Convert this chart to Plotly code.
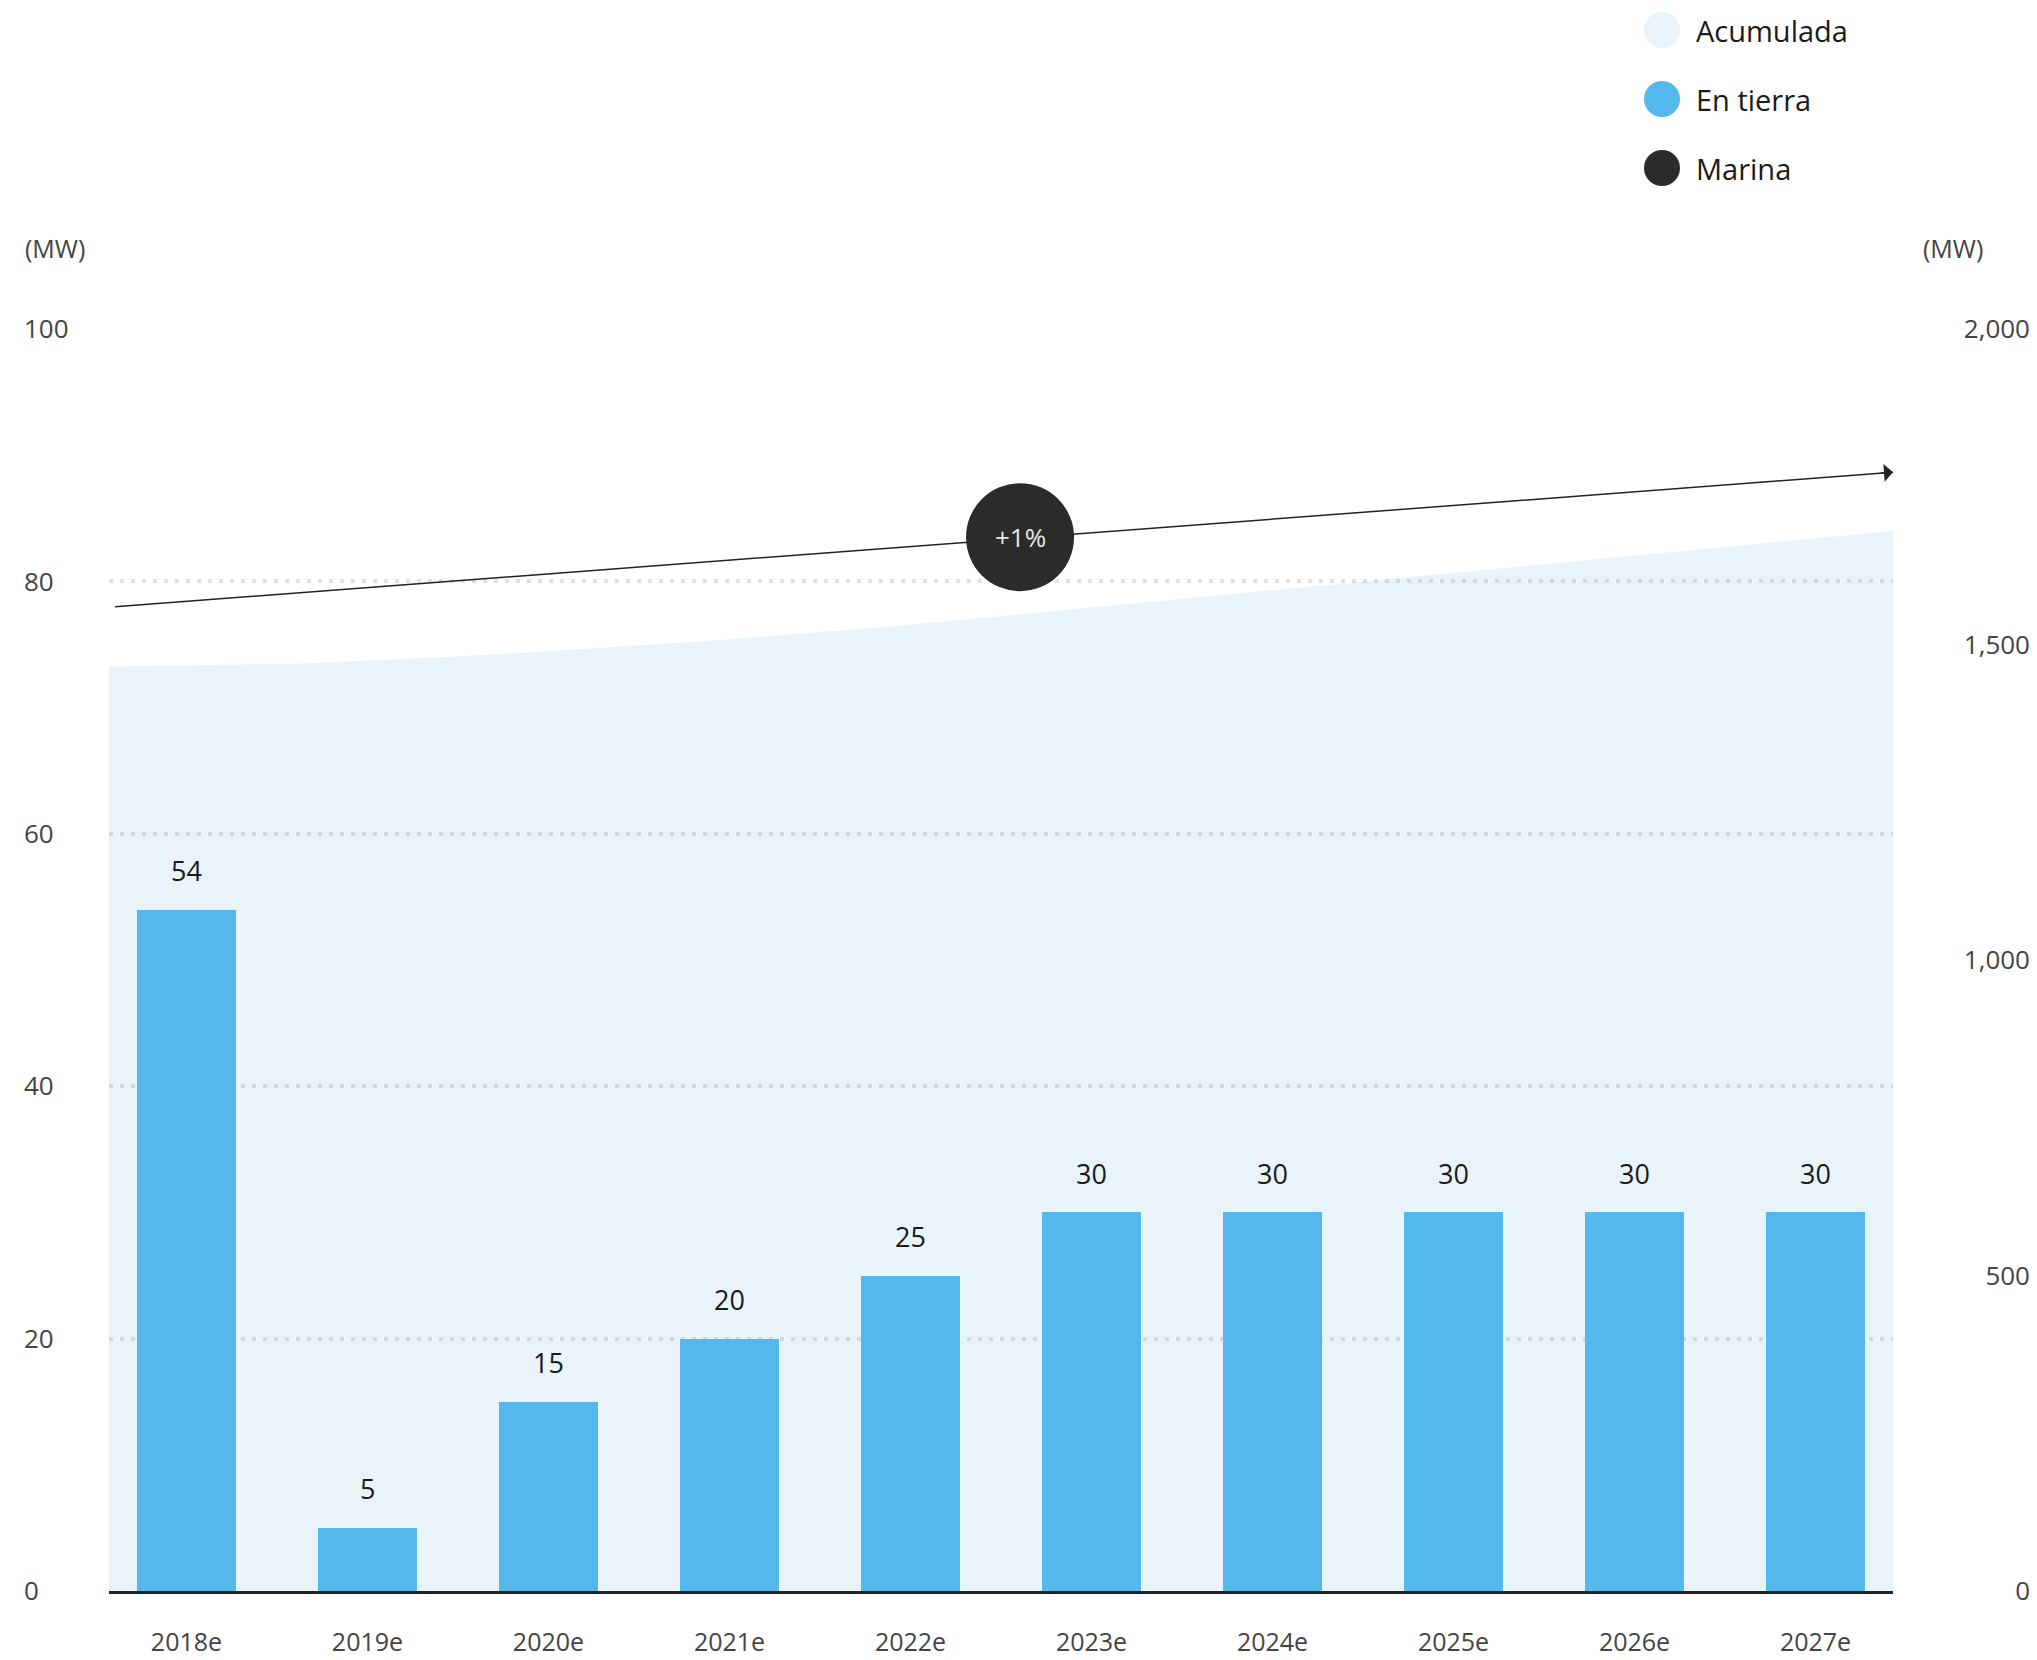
import plotly.graph_objects as go

# Annual wind additions (MW) and cumulative installed capacity (MW)
years = ["2018e", "2019e", "2020e", "2021e", "2022e",
         "2023e", "2024e", "2025e", "2026e", "2027e"]
en_tierra = [54, 5, 15, 20, 25, 30, 30, 30, 30, 30]
marina = [0, 0, 0, 0, 0, 0, 0, 0, 0, 0]
acumulada = [1465, 1470, 1485, 1505, 1530, 1560, 1590, 1620, 1650, 1680]

left_ticks = [0, 20, 40, 60, 80, 100]
right_ticks = [0, 500, 1000, 1500, 2000]
growth_label = "+1%"
legend_items = [("Acumulada", "#e8f3fa"), ("En tierra", "#54b8ed"), ("Marina", "#2b2b2b")]

W, H = 2037, 1660
FONT = "Open Sans"
C_BAR = "#54b8ed"
C_AREA = "rgba(102,175,222,0.15)"   # light translucent blue so the dotted grid shows through
C_DARK = "#2b2b2b"
C_TICK = "#444444"

x_dom = [109 / W, 1893 / W]
y_dom = [69 / H, 1331 / H]

fig = go.Figure()

# cumulative capacity as a filled area on the base subplot (right scale)
fig.add_trace(go.Scatter(
    x=list(range(len(acumulada))), y=acumulada,
    mode="lines", line=dict(width=0), fill="tozeroy", fillcolor=C_AREA,
    xaxis="x", yaxis="y", name="Acumulada", hoverinfo="skip",
))

# annual additions as bars on the overlaid subplot (left scale)
fig.add_trace(go.Bar(x=years, y=en_tierra, marker=dict(color=C_BAR, line=dict(width=0)),
                     xaxis="x2", yaxis="y2", name="En tierra"))
fig.add_trace(go.Bar(x=years, y=marina, marker=dict(color=C_DARK, line=dict(width=0)),
                     xaxis="x2", yaxis="y2", name="Marina"))

fig.update_layout(
    width=W, height=H,
    margin=dict(l=0, r=0, t=0, b=0, autoexpand=False),
    paper_bgcolor="white", plot_bgcolor="white",
    showlegend=False, barmode="stack", bargap=0.453,
    font=dict(family=FONT, color=C_TICK),
    xaxis=dict(domain=x_dom, range=[0, len(acumulada) - 1], visible=False, anchor="y",
               automargin=False),
    yaxis=dict(domain=y_dom, range=[0, 2000], side="right", anchor="free",
               position=2033 / W, tickvals=right_ticks, tickformat=",",
               ticklabelposition="inside", ticklabeloverflow="allow",
               showgrid=False, zeroline=False, showline=False, ticks="",
               automargin=False, tickfont=dict(size=26, color=C_TICK)),
    xaxis2=dict(overlaying="x", anchor="y2", type="category",
                range=[-0.428, len(years) - 1 + 0.428],
                showline=True, linecolor="#222222", linewidth=3, ticks="",
                showgrid=False, zeroline=False, ticklabelstandoff=27,
                automargin=False, tickfont=dict(size=25, color=C_TICK)),
    yaxis2=dict(overlaying="y", side="left", anchor="free", position=20 / W,
                range=[0, 100], tickvals=left_ticks,
                ticklabelposition="inside", ticklabeloverflow="allow",
                showgrid=True, gridcolor="#e0e0e0", gridwidth=4, griddash="4px,7px",
                zeroline=False, showline=False, ticks="",
                automargin=False, tickfont=dict(size=26, color=C_TICK)),
)

annotations = []
shapes = []

# value labels above bars
for yr, v in zip(years, en_tierra):
    annotations.append(dict(x=yr, y=v, xref="x2", yref="y2", text=str(v),
                            showarrow=False, yshift=39,
                            font=dict(size=27, color="#1a1a1a")))

# growth trend arrow with the rate badge
shapes.append(dict(type="line", xref="x", yref="y", x0=0.03, y0=1560, x1=9.0, y1=1773,
                   line=dict(color="#222222", width=1.5), layer="above"))
shapes.append(dict(type="circle", xref="x", yref="y", xsizemode="pixel", ysizemode="pixel",
                   xanchor=4.596, yanchor=1670, x0=-54, x1=54, y0=-54, y1=54,
                   fillcolor=C_DARK, line=dict(width=0), layer="above"))
annotations.append(dict(x=9.0, y=1773, xref="x", yref="y", text="", showarrow=True,
                        ax=-14, ay=1, arrowhead=1, arrowsize=2, arrowwidth=1.5,
                        arrowcolor="#222222", standoff=0))
annotations.append(dict(x=4.596, y=1670, xref="x", yref="y", text=growth_label,
                        showarrow=False, font=dict(size=26, color="#e6e6e6")))

# unit captions
annotations.append(dict(x=23 / W, y=1 - 248 / H, xref="paper", yref="paper", text="(MW)",
                        showarrow=False, xanchor="left", yanchor="middle",
                        font=dict(size=25, color=C_TICK)))
annotations.append(dict(x=1921 / W, y=1 - 248 / H, xref="paper", yref="paper", text="(MW)",
                        showarrow=False, xanchor="left", yanchor="middle",
                        font=dict(size=25, color=C_TICK)))

# legend
for i, (label, color) in enumerate(legend_items):
    cy = 1 - (30 + 69 * i) / H
    shapes.append(dict(type="circle", xref="paper", yref="paper",
                       xsizemode="pixel", ysizemode="pixel",
                       xanchor=1662 / W, yanchor=cy, x0=-18, x1=18, y0=-18, y1=18,
                       fillcolor=color, line=dict(width=0)))
    annotations.append(dict(x=1694 / W, y=cy, xref="paper", yref="paper", text=label,
                            showarrow=False, xanchor="left", yanchor="middle",
                            font=dict(size=29, color="#1a1a1a")))

fig.update_layout(annotations=annotations, shapes=shapes)
fig.write_html("out.html")
